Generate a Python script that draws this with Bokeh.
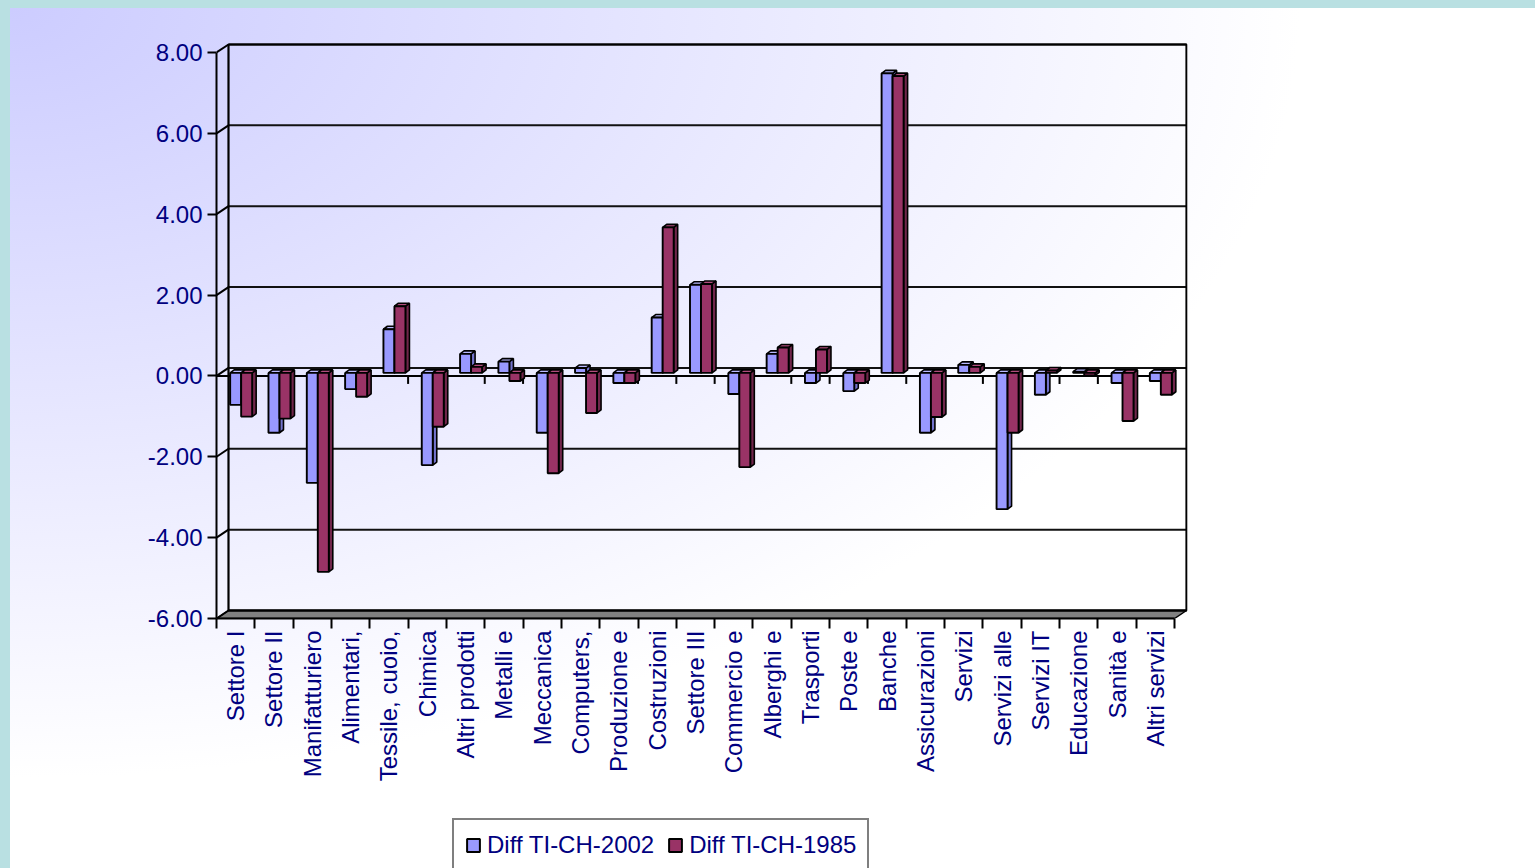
from bokeh.plotting import figure
from bokeh.layouts import column
from bokeh.models import (FixedTicker, PrintfTickFormatter, Legend, LegendItem,
                          ColumnDataSource)
from bokeh.embed import file_html
from bokeh.resources import INLINE

# ---------------- data ----------------
categories = ["Settore I", "Settore II", "Manifatturiero", "Alimentari,",
              "Tessile, cuoio,", "Chimica", "Altri prodotti", "Metalli e",
              "Meccanica", "Computers,", "Produzione e", "Costruzioni",
              "Settore III", "Commercio e", "Alberghi e", "Trasporti",
              "Poste e", "Banche", "Assicurazioni", "Servizi",
              "Servizi alle", "Servizi IT", "Educazione", "Sanità e",
              "Altri servizi"]
diff_2002 = [-0.79, -1.48, -2.72, -0.40, 1.08, -2.28, 0.47, 0.28,
             -1.48, 0.12, -0.25, 1.37, 2.18, -0.52, 0.47, -0.25,
             -0.45, 7.41, -1.48, 0.20, -3.37, -0.54, 0.03, -0.25, -0.20]
diff_1985 = [-1.08, -1.13, -4.92, -0.59, 1.65, -1.33, 0.15, -0.20,
             -2.48, -0.99, -0.25, 3.60, 2.20, -2.33, 0.63, 0.58,
             -0.25, 7.34, -1.09, 0.15, -1.48, 0.06, -0.06, -1.19, -0.54]
series_names = ["Diff TI-CH-2002", "Diff TI-CH-1985"]
y_ticks = [-6, -4, -2, 0, 2, 4, 6, 8]

# ---------------- style ----------------
FONT = "Liberation Sans"
NAVY = "#000080"
FACE = ["#9999ff", "#993366"]
SIDE = ["#7373cc", "#70264b"]
TOP = ["#b8b8ff", "#b04d7d"]
N = len(categories)
PXC = 38.32       # px per category
PXV = 40.43       # px per value unit
DX = 12 / PXC     # wall depth (x)
DY = 8 / PXV      # wall depth (y)
BW = 11 / PXC     # bar width
XOFF = 5.5 / PXC  # bar depth shift
BZ = 3 / PXV
BDX = 4 / PXC
BDY = 3 / PXV
YMIN, YMAX = y_ticks[0], y_ticks[-1]

W, H1, H2 = 1535, 810, 58
ML, MT = 216, 40
MB = H1 - 618
MR = W - 1187
frame_w = W - ML - MR
frame_h = H1 - MT - MB

p = figure(width=W, height=H1, output_backend="svg", toolbar_location=None,
           x_range=(0, frame_w / PXC),
           y_range=(YMIN, YMIN + frame_h / PXV),
           min_border_left=ML, min_border_right=MR,
           min_border_top=MT, min_border_bottom=MB)
p.background_fill_color = None
p.border_fill_color = None
p.outline_line_color = None
p.xgrid.visible = False
p.ygrid.visible = False

# floor
p.patch([0, N, N + DX, DX], [YMIN, YMIN, YMIN + DY, YMIN + DY],
        fill_color="#808080", line_color="black", line_width=1.5)
# back wall gridlines
p.segment(x0=[DX] * len(y_ticks), y0=[v + DY for v in y_ticks],
          x1=[N + DX] * len(y_ticks), y1=[v + DY for v in y_ticks],
          line_color="#111111", line_width=2)
# left wall diagonals
p.segment(x0=[0] * len(y_ticks), y0=y_ticks,
          x1=[DX] * len(y_ticks), y1=[v + DY for v in y_ticks],
          line_color="black", line_width=2)
# back wall outline
p.quad(left=[DX], right=[N + DX], bottom=[YMIN + DY], top=[YMAX + DY],
       fill_color=None, line_color="black", line_width=2.2)
# zero category line with its ticks
p.segment(x0=[0], y0=[0], x1=[N], y1=[0], line_color="black", line_width=2)
p.segment(x0=list(range(1, N + 1)), y0=[0] * N,
          x1=list(range(1, N + 1)), y1=[-DY] * N,
          line_color="black", line_width=2)

# bars
for s, vals in enumerate([diff_2002, diff_1985]):
    x0 = [i + 0.5 + XOFF - BW + s * BW for i in range(N)]
    x1 = [x + BW for x in x0]
    lo = [BZ + min(v, 0) for v in vals]
    hi = [BZ + max(v, 0) for v in vals]
    side = ColumnDataSource(dict(
        xs=[[a, a + BDX, a + BDX, a] for a in x1],
        ys=[[l, l + BDY, h + BDY, h] for l, h in zip(lo, hi)]))
    top = ColumnDataSource(dict(
        xs=[[a, b, b + BDX, a + BDX] for a, b in zip(x0, x1)],
        ys=[[h, h, h + BDY, h + BDY] for h in hi]))
    p.patches("xs", "ys", source=side, fill_color=SIDE[s],
              line_color="black", line_width=1.6)
    p.patches("xs", "ys", source=top, fill_color=TOP[s],
              line_color="black", line_width=1.6)
    p.quad(left=x0, right=x1, bottom=lo, top=hi, fill_color=FACE[s],
           line_color="black", line_width=1.9)

# y axis
ya = p.yaxis[0]
ya.ticker = FixedTicker(ticks=y_ticks)
ya.formatter = PrintfTickFormatter(format="%.2f")
ya.bounds = (YMIN, YMAX)
ya.axis_line_width = 2
ya.axis_line_color = "black"
ya.major_tick_out = 9
ya.major_tick_in = 0
ya.major_tick_line_width = 2
ya.minor_tick_out = 0
ya.minor_tick_in = 0
ya.major_label_standoff = 5
ya.major_label_text_font = FONT
ya.major_label_text_font_size = "24px"
ya.major_label_text_color = NAVY

# x axis
xa = p.xaxis[0]
centers = [i + 0.5 for i in range(N)]
xa.ticker = FixedTicker(ticks=centers, minor_ticks=list(range(N + 1)))
xa.major_label_overrides = {c: name for c, name in zip(centers, categories)}
xa.bounds = (0, N)
xa.axis_line_width = 2
xa.axis_line_color = "black"
xa.major_tick_out = 0
xa.major_tick_in = 0
xa.minor_tick_out = 10
xa.minor_tick_in = 0
xa.minor_tick_line_width = 2
xa.minor_tick_line_color = "black"
xa.major_label_orientation = 3.14159265 / 2
xa.major_label_standoff = 2
xa.major_label_text_font = FONT
xa.major_label_text_font_size = "24px"
xa.major_label_text_color = NAVY

# legend strip
q = figure(width=W, height=H2, output_backend="svg", toolbar_location=None,
           x_axis_location=None, y_axis_location=None,
           min_border=0, x_range=(0, 1), y_range=(0, 1))
q.background_fill_color = None
q.border_fill_color = None
q.outline_line_color = None
q.xgrid.visible = False
q.ygrid.visible = False
swatches = [q.quad(left=[0], right=[0], bottom=[0], top=[0], fill_color=FACE[s],
                   line_color="black", line_width=2, visible=False)
            for s in range(2)]
legend = Legend(items=[LegendItem(label=series_names[s], renderers=[swatches[s]])
                       for s in range(2)],
                orientation="horizontal", location=(236, -4))
legend.label_text_font = FONT
legend.label_text_font_size = "24px"
legend.label_text_color = NAVY
legend.glyph_width = 16
legend.glyph_height = 16
legend.label_standoff = 6
legend.spacing = 13
legend.padding = 11
legend.margin = 0
legend.border_line_color = "black"
legend.border_line_width = 2.5
legend.background_fill_alpha = 0
legend.click_policy = "none"
q.add_layout(legend, "center")

layout = column(p, q, spacing=0)
layout.styles = {"background":
                 "linear-gradient(#b9e0e2, #b9e0e2) 0px 0px / 100% 8px no-repeat, "
                 "linear-gradient(#b9e0e2, #b9e0e2) 0px 0px / 10px 100% no-repeat, "
                 "radial-gradient(ellipse 1290px 770px at 10px 8px, #ccccff 0%, #ffffff 100%)"}

open("out.html", "w", encoding="utf-8").write(file_html(layout, INLINE))
